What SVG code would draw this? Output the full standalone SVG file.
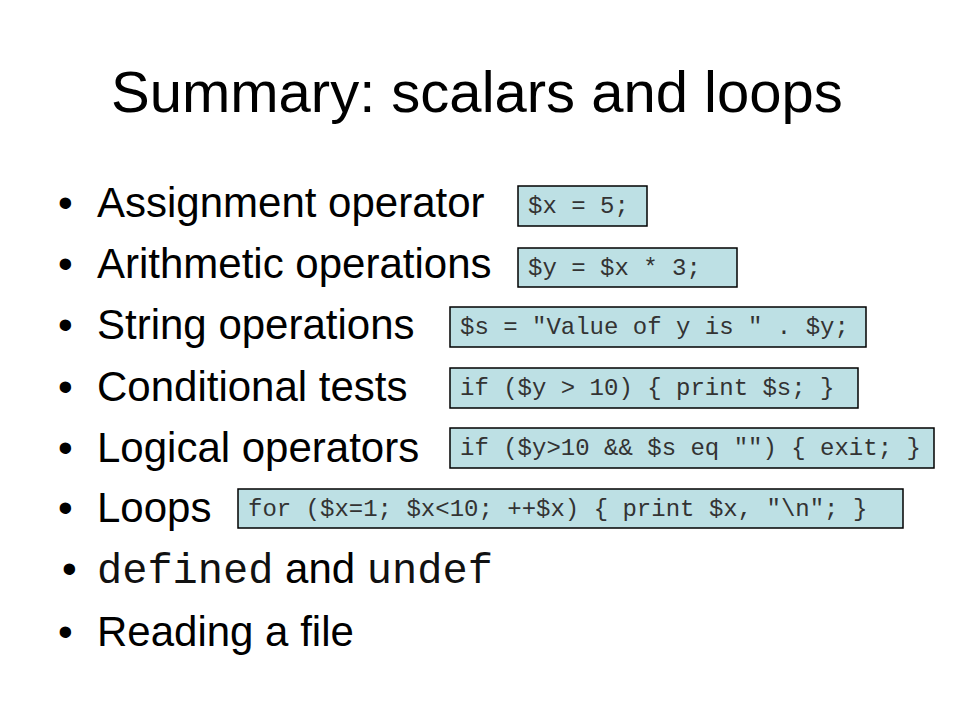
<svg xmlns="http://www.w3.org/2000/svg" width="960" height="720" viewBox="0 0 960 720">
<style>
.title{font-family:"Liberation Sans",Arial,sans-serif;font-size:58px;fill:#000}
.b{font-family:"Liberation Sans",Arial,sans-serif;font-size:42px;fill:#000}
.m{font-family:"Liberation Mono","Courier New",monospace;font-size:42px;fill:#111}
.box{fill:#bde0e4;stroke:#000;stroke-width:1.5}
.code{font-family:"Liberation Mono","Courier New",monospace;font-size:24px;fill:#333;white-space:pre}
</style>
<rect width="960" height="720" fill="#fff"/>
<g id="title"><text class="title" x="111" y="112">Summary: scalars and loops</text></g>

<g id="bullet-assignment">
<text class="b" x="58" y="217">•</text><text class="b" x="97" y="217">Assignment operator</text>
</g>
<g id="bullet-arithmetic">
<text class="b" x="58" y="278">•</text><text class="b" x="97" y="278">Arithmetic operations</text>
</g>
<g id="bullet-string">
<text class="b" x="58" y="339">•</text><text class="b" x="97" y="339">String operations</text>
</g>
<g id="bullet-conditional">
<text class="b" x="58" y="401">•</text><text class="b" x="97" y="401">Conditional tests</text>
</g>
<g id="bullet-logical">
<text class="b" x="58" y="462">•</text><text class="b" x="97" y="462">Logical operators</text>
</g>
<g id="bullet-loops">
<text class="b" x="58" y="522">•</text><text class="b" x="97" y="522">Loops</text>
</g>
<g id="bullet-defined">
<text class="b" x="62" y="583">•</text><text x="97" y="583"><tspan class="m">defined</tspan><tspan class="b"> and </tspan><tspan class="m">undef</tspan></text>
</g>
<g id="bullet-reading">
<text class="b" x="58" y="646">•</text><text class="b" x="97" y="646">Reading a file</text>
</g>

<g id="code-assign"><rect class="box" x="518" y="186" width="129" height="40"/><text class="code" x="528" y="213">$x = 5;</text></g>
<g id="code-arith"><rect class="box" x="518" y="248" width="219" height="39"/><text class="code" x="528" y="275">$y = $x * 3;</text></g>
<g id="code-string"><rect class="box" x="450" y="307" width="416" height="40"/><text class="code" x="460" y="334">$s = "Value of y is " . $y;</text></g>
<g id="code-cond"><rect class="box" x="450" y="368" width="408" height="40"/><text class="code" x="460" y="395">if ($y &gt; 10) { print $s; }</text></g>
<g id="code-logical"><rect class="box" x="450" y="428" width="484" height="40"/><text class="code" x="460" y="455">if ($y&gt;10 &amp;&amp; $s eq "") { exit; }</text></g>
<g id="code-loop"><rect class="box" x="238" y="489" width="665" height="39"/><text class="code" x="248" y="516">for ($x=1; $x&lt;10; ++$x) { print $x, "\n"; }</text></g>
</svg>
